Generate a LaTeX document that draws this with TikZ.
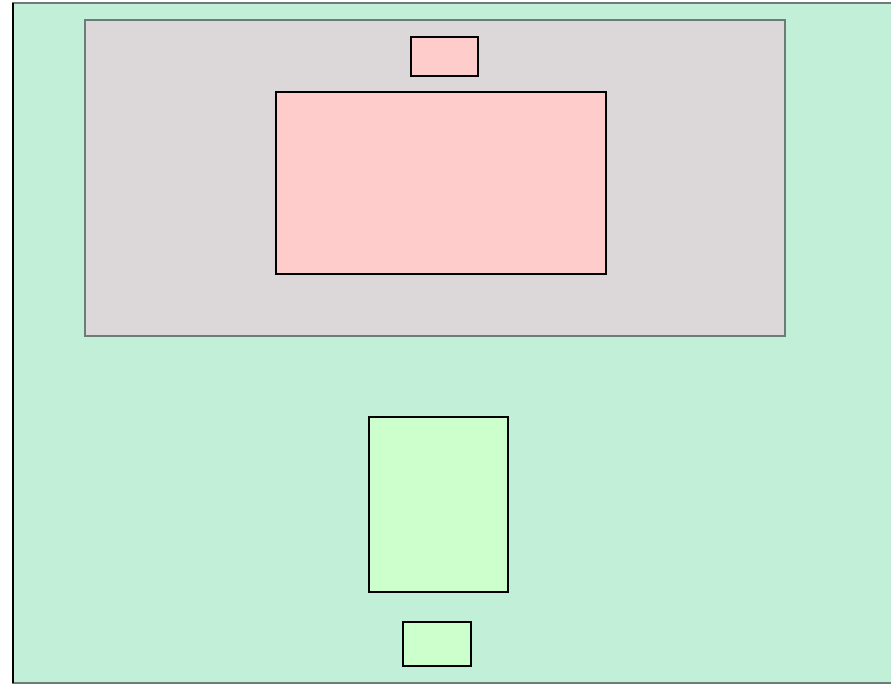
\documentclass[tikz,border=0pt]{standalone}
\usepackage{tikz}
\usetikzlibrary{positioning}
\definecolor{fondo}{HTML}{C2EFD8}
\definecolor{gris}{HTML}{DCD7D9}
\definecolor{rosa}{HTML}{FFCCCC}
\definecolor{verdeclaro}{HTML}{CCFFCC}
\definecolor{borde}{HTML}{6E7C78}

\begin{document}
\begin{tikzpicture}[x=1pt, y=-1pt,
      caja/.style={draw=black, line width=1.4pt, inner sep=0pt, outer sep=0pt},
      marco/.style={draw=borde, line width=1.6pt, inner sep=0pt, outer sep=0pt}]
    \useasboundingbox (0,0) rectangle (891,684);
    \begin{scope}
      \clip (0,0) rectangle (891,684);
      \node[marco, fill=fondo, anchor=north west, minimum width=890pt, minimum height=680pt] (fondo) at (13,3) {};
      \draw[black, line width=1.6pt] (fondo.north west) -- (fondo.south west);
    \end{scope}
    \node[marco, fill=gris, anchor=north west, minimum width=700pt, minimum height=316pt] (grupo) at (85,20) {};
    \node[caja, fill=rosa, anchor=north west, minimum width=67pt, minimum height=39pt] (etiq) at (411,37) {};
    \node[caja, fill=rosa, anchor=north west, minimum width=330pt, minimum height=182pt] (panel) at (276,92) {};
    \node[caja, fill=verdeclaro, anchor=north west, minimum width=139pt, minimum height=175pt] (bloque) at (369,417) {};
    \node[caja, fill=verdeclaro, anchor=north west, minimum width=68pt, minimum height=44pt] (pie) at (403,622) {};
  \end{tikzpicture}
\end{document}
